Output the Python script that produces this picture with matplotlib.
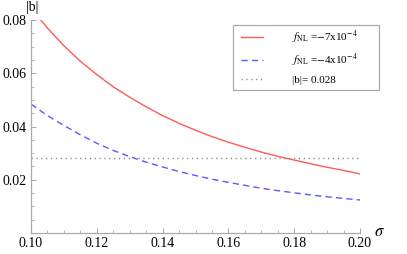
import matplotlib
matplotlib.use("Agg")
import matplotlib.pyplot as plt
from matplotlib.patches import Rectangle
from matplotlib.ticker import MultipleLocator

plt.rcParams['font.family'] = ['Liberation Serif', 'DejaVu Serif']
plt.rcParams['mathtext.fontset'] = 'stix'

# data
sigma_red = [0.103, 0.105, 0.110, 0.115, 0.120, 0.125, 0.130, 0.135, 0.140, 0.145, 0.150,
             0.155, 0.160, 0.165, 0.170, 0.175, 0.180, 0.185, 0.190, 0.195, 0.200]
b_red = [0.0800, 0.0770, 0.0703, 0.0645, 0.0595, 0.0549, 0.0510, 0.0474, 0.0441, 0.0412, 0.0386,
         0.0362, 0.0341, 0.0322, 0.0304, 0.0288, 0.0274, 0.0260, 0.0247, 0.0235, 0.0222]
sigma_blue = [0.100, 0.105, 0.110, 0.115, 0.120, 0.125, 0.130, 0.135, 0.140, 0.145, 0.150,
              0.155, 0.160, 0.165, 0.170, 0.175, 0.180, 0.185, 0.190, 0.195, 0.200]
b_blue = [0.0484, 0.0441, 0.0404, 0.0369, 0.0337, 0.0310, 0.0287, 0.0266, 0.0248, 0.0231, 0.0216,
          0.0202, 0.0190, 0.0179, 0.0168, 0.0159, 0.0151, 0.0143, 0.0136, 0.0130, 0.0124]
b_const = 0.028
sigma_range = [0.10, 0.20]
labels = [r'$f_{\rm NL}$ =$-$7x10$^{-4}$', r'$f_{\rm NL}$ =$-$4x10$^{-4}$', '|b|= 0.028']
x_ticks = [0.10, 0.12, 0.14, 0.16, 0.18, 0.20]
y_ticks = [0.02, 0.04, 0.06, 0.08]

W, H = 407, 254
fig = plt.figure(figsize=(W / 100, H / 100), dpi=100)
ax = fig.add_axes([31 / W, 21 / H, 329 / W, 213 / H])

l1, = ax.plot(sigma_red, b_red, color='#ff5a5a', lw=1.0, label=labels[0])
l2, = ax.plot(sigma_blue, b_blue, color='#5a5aff', lw=1.0, dashes=(4.5, 3.0), label=labels[1])
l3, = ax.plot(sigma_range, [b_const, b_const], color='#888888', lw=1.0, dashes=(0.9, 2.6), label=labels[2])

ax.set_xlim(0.10, 0.20)
ax.set_ylim(0.0, 0.08)
for s in ['top', 'right']:
    ax.spines[s].set_visible(False)
for s in ['left', 'bottom']:
    ax.spines[s].set_color('#aaaaaa')
    ax.spines[s].set_linewidth(0.9)
ax.set_xticks(x_ticks)
ax.set_yticks(y_ticks)
ax.set_xticklabels([f'{v:.2f}' for v in x_ticks])
ax.set_yticklabels([f'{v:.2f}' for v in y_ticks])
ax.xaxis.set_minor_locator(MultipleLocator(0.005))
ax.yaxis.set_minor_locator(MultipleLocator(0.005))
ax.tick_params(which='major', direction='in', length=3.5, width=0.8, color='#aaaaaa',
               labelsize=10, pad=3)
ax.tick_params(which='minor', direction='in', length=2.0, width=0.6, color='#aaaaaa')

fig.text(32 / W, 1 - 7 / H, '|b|', ha='center', va='center', fontsize=10)
fig.text(379 / W, 1 - 232 / H, r'$\sigma$', ha='center', va='center', fontsize=12)

leg = fig.legend(handles=[l1, l2, l3], labels=labels, loc='upper left',
                 bbox_to_anchor=(241 / W, 1 - 29 / H), bbox_transform=fig.transFigure,
                 frameon=False, fontsize=8, handlelength=2.0, handletextpad=2.6,
                 labelspacing=0.55, borderaxespad=0, borderpad=0)
fig.add_artist(Rectangle((233 / W, 1 - 90 / H), 146 / W, 65 / H, transform=fig.transFigure,
                         fill=False, edgecolor='#aaaaaa', lw=0.9))

fig.savefig('out.png', dpi=100)
